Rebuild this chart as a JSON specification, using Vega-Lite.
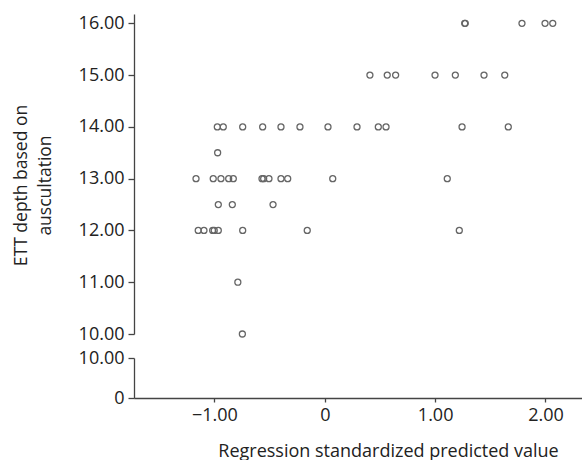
{
  "$schema": "https://vega.github.io/schema/vega-lite/v6.json",
  "padding": {"left": 12, "top": 14, "right": 0, "bottom": 0},
  "background": "white",
  "bounds": "flush",
  "spacing": 24,
  "config": {
    "view": {"stroke": null},
    "font": "Open Sans",
    "axis": {
      "labelFont": "Open Sans",
      "titleFont": "Open Sans",
      "labelFontSize": 18,
      "titleFontSize": 17.5,
      "labelColor": "#222222",
      "titleColor": "#222222",
      "titleFontWeight": "normal",
      "domainColor": "#444444",
      "tickColor": "#444444",
      "domainWidth": 1.3,
      "tickWidth": 1.3,
      "grid": false
    }
  },
  "datasets": {
    "pts": [
      {"pred": 1.268, "depth": 16}, {"pred": 1.273, "depth": 16}, {"pred": 1.787, "depth": 16}, {"pred": 1.996, "depth": 16}, {"pred": 2.066, "depth": 16},
      {"pred": 0.409, "depth": 15}, {"pred": 0.566, "depth": 15}, {"pred": 0.642, "depth": 15}, {"pred": 0.999, "depth": 15}, {"pred": 1.183, "depth": 15}, {"pred": 1.443, "depth": 15}, {"pred": 1.631, "depth": 15},
      {"pred": -0.974, "depth": 14}, {"pred": -0.92, "depth": 14}, {"pred": -0.744, "depth": 14}, {"pred": -0.563, "depth": 14}, {"pred": -0.397, "depth": 14}, {"pred": -0.225, "depth": 14}, {"pred": 0.029, "depth": 14}, {"pred": 0.292, "depth": 14}, {"pred": 0.485, "depth": 14}, {"pred": 0.555, "depth": 14}, {"pred": 1.244, "depth": 14}, {"pred": 1.663, "depth": 14},
      {"pred": -0.971, "depth": 13.5},
      {"pred": -1.167, "depth": 13}, {"pred": -1.011, "depth": 13}, {"pred": -0.941, "depth": 13}, {"pred": -0.871, "depth": 13}, {"pred": -0.829, "depth": 13}, {"pred": -0.569, "depth": 13}, {"pred": -0.554, "depth": 13}, {"pred": -0.506, "depth": 13}, {"pred": -0.397, "depth": 13}, {"pred": -0.336, "depth": 13}, {"pred": 0.072, "depth": 13}, {"pred": 1.11, "depth": 13},
      {"pred": -0.965, "depth": 12.5}, {"pred": -0.838, "depth": 12.5}, {"pred": -0.469, "depth": 12.5},
      {"pred": -1.147, "depth": 12}, {"pred": -1.095, "depth": 12}, {"pred": -1.016, "depth": 12}, {"pred": -1.002, "depth": 12}, {"pred": -0.965, "depth": 12}, {"pred": -0.744, "depth": 12}, {"pred": -0.159, "depth": 12}, {"pred": 1.219, "depth": 12},
      {"pred": -0.788, "depth": 11},
      {"pred": -0.747, "depth": 10}
    ]
  },
  "vconcat": [
    {
      "width": 448,
      "height": 320,
      "data": {"name": "pts"},
      "mark": {"type": "point", "shape": "circle", "filled": false, "size": 36, "strokeWidth": 1.3, "color": "#666666", "opacity": 1},
      "encoding": {
        "x": {"field": "pred", "type": "quantitative", "scale": {"domain": [-1.729, 2.331], "nice": false, "zero": false}, "axis": null},
        "y": {
          "field": "depth", "type": "quantitative",
          "scale": {"domain": [10, 16.18], "nice": false, "zero": false},
          "axis": {
            "values": [10, 11, 12, 13, 14, 15, 16],
            "format": ".2f",
            "tickSize": 6,
            "labelPadding": 4,
            "title": ["ETT depth based on", "auscultation"],
            "titleLineHeight": 24,
            "titlePadding": 24,
            "titleY": 171
          }
        }
      }
    },
    {
      "width": 448,
      "height": 40,
      "data": {"name": "pts"},
      "mark": {"type": "point", "shape": "circle", "filled": false, "size": 36, "opacity": 0},
      "encoding": {
        "x": {
          "field": "pred", "type": "quantitative",
          "scale": {"domain": [-1.729, 2.331], "nice": false, "zero": false},
          "axis": {
            "values": [-1, 0, 1, 2],
            "labelExpr": "datum.value == 0 ? '0' : format(datum.value, '.2f')",
            "tickSize": 4,
            "labelPadding": 4,
            "title": "Regression standardized predicted value",
            "titleFontSize": 18,
            "titlePadding": 18,
            "titleX": 254
          }
        },
        "y": {
          "field": "depth", "type": "quantitative",
          "scale": {"domain": [0, 10], "nice": false, "zero": false},
          "axis": {
            "values": [0, 10],
            "labelExpr": "datum.value == 0 ? '0' : '10.00'",
            "tickSize": 6,
            "labelPadding": 4,
            "title": null
          }
        }
      }
    }
  ]
}
